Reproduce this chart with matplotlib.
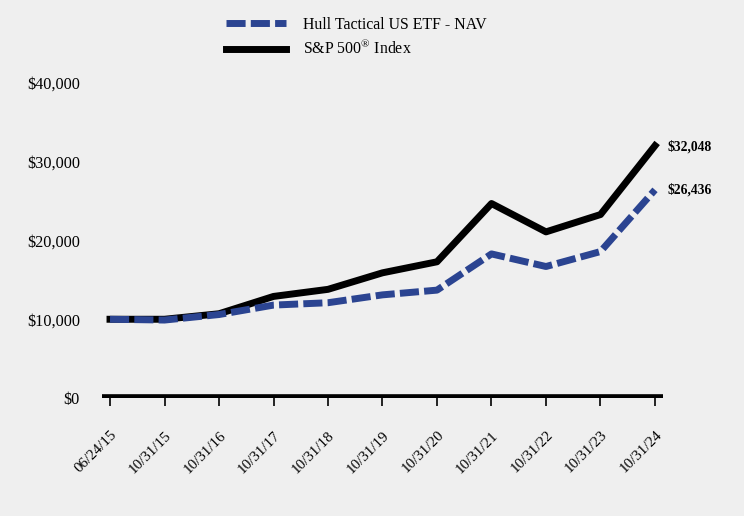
import matplotlib.pyplot as plt
import numpy as np
from matplotlib.ticker import FuncFormatter

# values
dates = ["06/24/15", "10/31/15", "10/31/16", "10/31/17", "10/31/18", "10/31/19",
         "10/31/20", "10/31/21", "10/31/22", "10/31/23", "10/31/24"]
hull = [10000, 9900, 10600, 11800, 12100, 13100, 13700, 18300, 16700, 18600, 26436]
spx = [10000, 10000, 10700, 12900, 13800, 15900, 17300, 24700, 21100, 23300, 32048]

bg = '#efefef'
blue = '#2b4491'

plt.rcParams['font.family'] = ['Liberation Serif', 'DejaVu Serif']
plt.rcParams['mathtext.fontset'] = 'custom'
plt.rcParams['mathtext.rm'] = 'Liberation Serif'

fig = plt.figure(figsize=(7.44, 5.16), dpi=100, facecolor=bg)
ax = fig.add_axes([102/744, 0.2287, (663-102)/744, 0.839-0.2287])
ax.set_facecolor(bg)

x = np.arange(len(dates))
ax.plot(x, spx, color='black', lw=5, label='S&P 500$^{\\mathrm{®}}$ Index', zorder=2)
ax.plot(x, hull, color=blue, lw=5, dashes=(2.75, 0.75), label='Hull Tactical US ETF - NAV', zorder=3)

ax.axhline(0, color='black', lw=5.5, zorder=4)

ax.set_xlim(-0.147, 10.147)
ax.set_ylim(0, 40000)
ax.set_yticks(np.arange(0, 40001, 10000))
ax.yaxis.set_major_formatter(FuncFormatter(lambda v, p: "${:,.0f}".format(v)))
ax.set_xticks(x)
ax.set_xticklabels(dates, rotation=45, ha='right', rotation_mode='anchor')
ax.tick_params(axis='y', length=0, labelsize=11.7, pad=16)
ax.tick_params(axis='x', length=5.5, width=1.2, labelsize=10.8, pad=16.5, direction='out')
for s in ax.spines.values():
    s.set_visible(False)

ax.text(10.23, 31900, "${:,}".format(spx[-1]), fontsize=9.8, fontweight='bold', va='center')
ax.text(10.23, hull[-1], "${:,}".format(hull[-1]), fontsize=9.8, fontweight='bold', va='center')

h, l = ax.get_legend_handles_labels()
fig.legend(h[::-1], l[::-1], loc='upper left', bbox_to_anchor=(226/744, 0.967), frameon=False,
           fontsize=11.4, handlelength=3.8, handletextpad=1.05, labelspacing=0.4, borderpad=0,
           borderaxespad=0)

fig.savefig("out.png", dpi=100, facecolor=bg)
